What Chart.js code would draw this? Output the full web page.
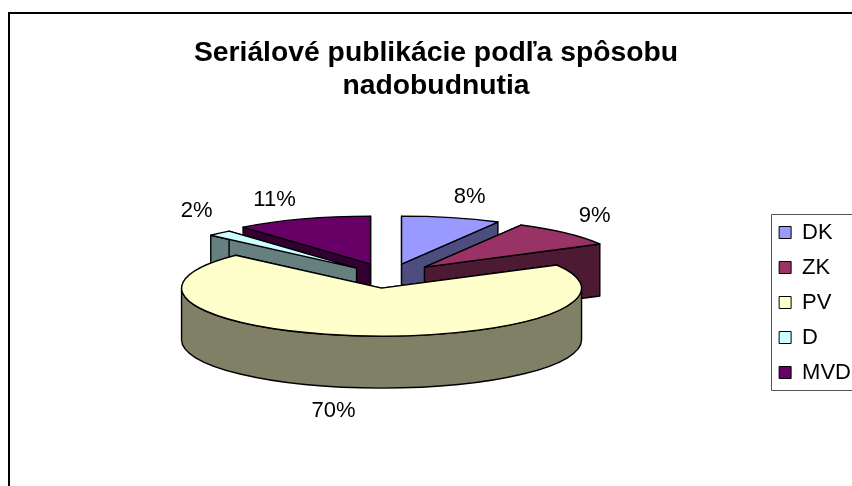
<!DOCTYPE html>
<html><head><meta charset="utf-8">
<style>html,body{margin:0;padding:0;background:#fff}canvas{display:block}</style>
<script src="https://cdn.jsdelivr.net/npm/chart.js@4"></script>
</head><body><canvas id="c" width="852" height="486"></canvas>
<script>
const categories = ["DK","ZK","PV","D","MVD"];
const values = [8,9,70,2,11];
const titleLines = ["Seriálové publikácie podľa spôsobu","nadobudnutia"];
const topColors = ["#9999FF","#993366","#FFFFCC","#CCFFFF","#660066"];
const sideColors = ["#4D4D80","#4D1A33","#808066","#668080","#330033"];
// style: 3D look
const tilt = 0.24, depth = 52;
const drawOrder = [0,4,3,1,2];
const explode = [[13,-8],[36,-5],[-7,16],[-32,-4],[-18,-8]];   // px shift of each slice from the pie centre
const labelShift = [[68,-67],[170,-51],[-48,123],[-160,-57],[-96,-64]]; // px from slice apex
const legendBoxLeft = 771, legendBoxTop = 214, legendBoxBottom = 391;

const pie3d = {
  id:'pie3d',
  afterLayout(chart){
    const mid = (legendBoxTop+legendBoxBottom)/2;
    chart.legend.top = mid-150; chart.legend.bottom = mid+150;
  },
  beforeDraw(chart){
    const c = chart.ctx;
    c.save();
    c.fillStyle='#fff'; c.fillRect(0,0,chart.width,chart.height);
    c.strokeStyle='#000'; c.lineWidth=2;
    c.beginPath(); c.moveTo(9,chart.height); c.lineTo(9,13); c.lineTo(chart.width,13); c.stroke();
    c.strokeStyle='#555'; c.lineWidth=1;
    c.beginPath();
    c.moveTo(chart.width,legendBoxTop+.5); c.lineTo(legendBoxLeft+.5,legendBoxTop+.5);
    c.lineTo(legendBoxLeft+.5,legendBoxBottom-.5); c.lineTo(chart.width,legendBoxBottom-.5); c.stroke();
    c.restore();
  },
  beforeDatasetsDraw(chart){
    const c = chart.ctx, arcs = chart.getDatasetMeta(0).data;
    c.save();
    c.lineWidth=1.4; c.strokeStyle='#000'; c.lineJoin='round';
    for(const i of drawOrder){
      const a = arcs[i], rx=a.outerRadius, ry=rx*tilt;
      const ax=a.x+explode[i][0], ay=a.y+explode[i][1];
      const s=a.startAngle, e=a.endAngle;
      c.fillStyle=sideColors[i];
      for(const t of [s,e]){
        const px=ax+rx*Math.cos(t), py=ay+ry*Math.sin(t);
        c.beginPath(); c.moveTo(ax,ay); c.lineTo(px,py); c.lineTo(px,py+depth); c.lineTo(ax,ay+depth); c.closePath();
        c.fill(); c.stroke();
      }
      const w0=Math.max(s,0), w1=Math.min(e,Math.PI);
      if(w1>w0){
        c.beginPath();
        c.ellipse(ax,ay,rx,ry,0,w0,w1,false);
        c.ellipse(ax,ay+depth,rx,ry,0,w1,w0,true);
        c.closePath(); c.fill(); c.stroke();
      }
      c.save();
      c.translate(ax,ay); c.scale(1,tilt); c.translate(-a.x,-a.y);
      a.draw(c);
      c.restore();
      c.beginPath(); c.moveTo(ax,ay); c.ellipse(ax,ay,rx,ry,0,s,e,false); c.closePath(); c.stroke();
    }
    c.fillStyle='#000'; c.font='22px "Liberation Sans"'; c.textAlign='center'; c.textBaseline='middle';
    arcs.forEach((a,i)=>{
      c.fillText(values[i]+'%', a.x+explode[i][0]+labelShift[i][0], a.y+explode[i][1]+labelShift[i][1]);
    });
    c.restore();
    return false;
  }
};
new Chart(document.getElementById('c'),{
  type:'pie',
  data:{labels:categories,datasets:[{data:values,backgroundColor:topColors,borderWidth:0}]},
  options:{
    responsive:false,animation:false,devicePixelRatio:1,radius:200,
    layout:{padding:{left:11,right:-9,top:0,bottom:45}},
    plugins:{
      tooltip:{enabled:false},
      title:{display:true,text:titleLines,color:'#000',
        font:{family:'"Liberation Sans"',size:28.3,weight:'bold',lineHeight:1.17},padding:{top:37,bottom:0}},
      legend:{position:'right',align:'center',
        labels:{color:'#000',font:{family:'"Liberation Sans"',size:22},boxWidth:12,boxHeight:12,padding:13,
          generateLabels(ch){
            return Chart.overrides.doughnut.plugins.legend.labels.generateLabels(ch).map(x=>({...x,lineWidth:1,strokeStyle:'#000'}));
          }}}
    }
  },
  plugins:[pie3d]
});
</script></body></html>
